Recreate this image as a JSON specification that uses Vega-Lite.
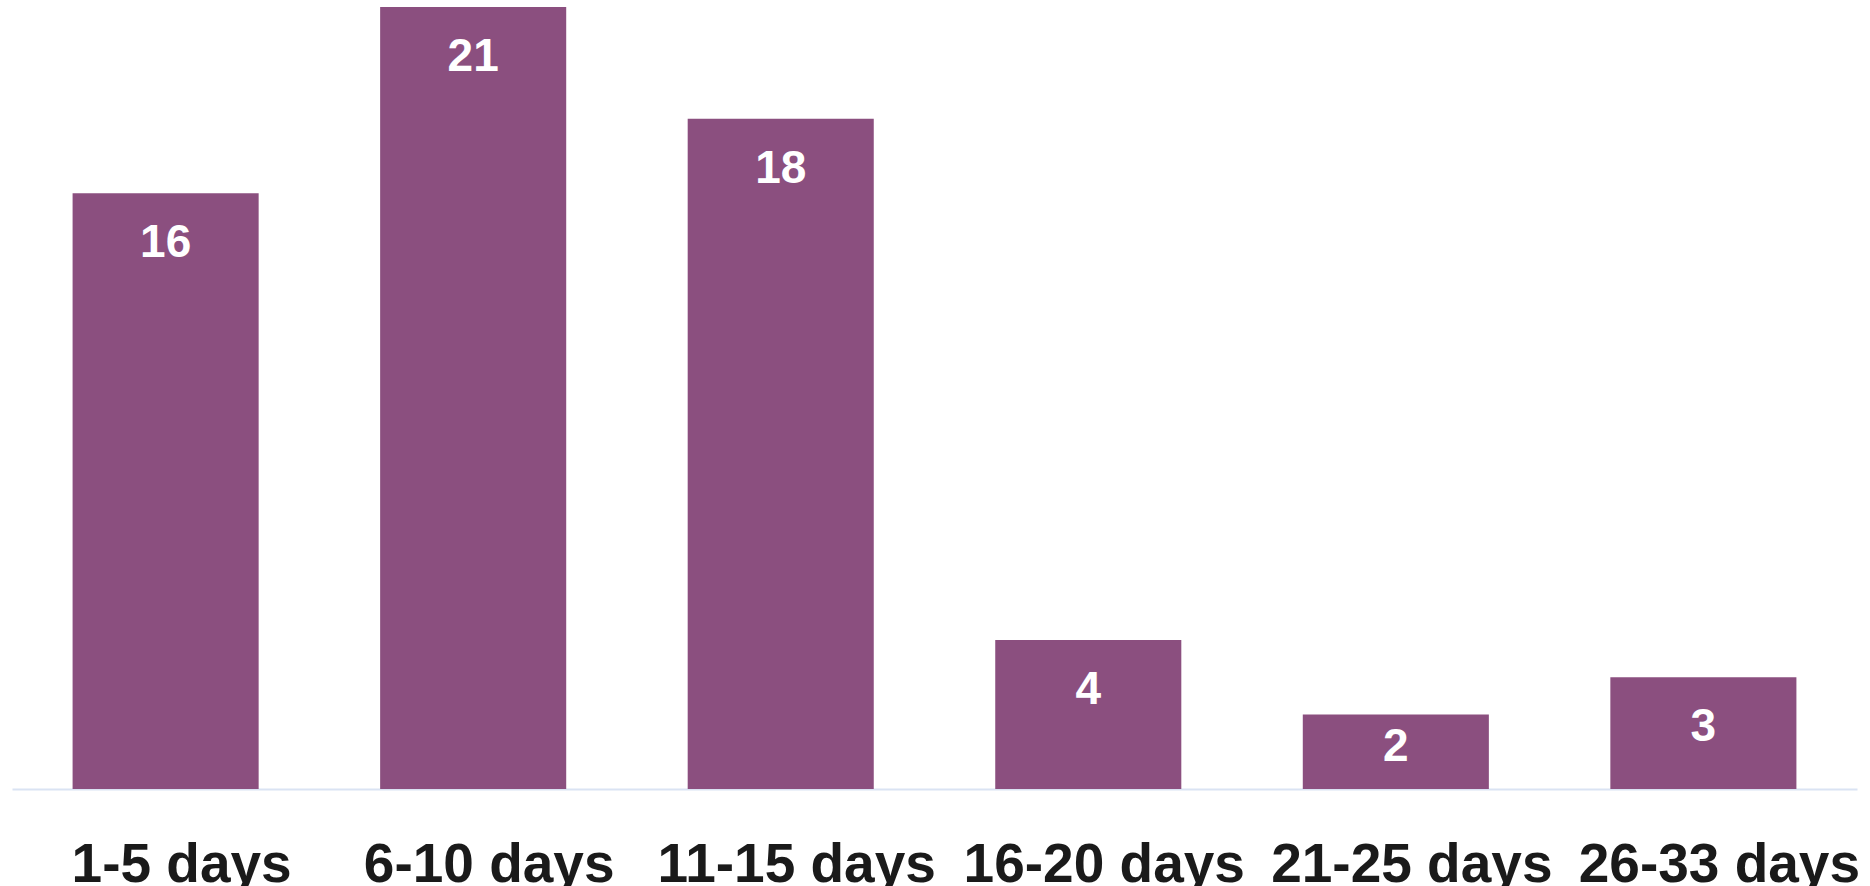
{
  "$schema": "https://vega.github.io/schema/vega-lite/v6.json",
  "width": 1845,
  "height": 782,
  "autosize": "none",
  "padding": {"left": 12, "top": 7, "right": 13, "bottom": 97},
  "background": "white",
  "config": {"view": {"stroke": null}},
  "data": {
    "values": [
      {"range": "1-5 days", "count": 16},
      {"range": "6-10 days", "count": 21},
      {"range": "11-15 days", "count": 18},
      {"range": "16-20 days", "count": 4},
      {"range": "21-25 days", "count": 2},
      {"range": "26-33 days", "count": 3}
    ]
  },
  "encoding": {
    "x": {
      "field": "range",
      "type": "nominal",
      "sort": null,
      "scale": {"paddingInner": 0.395, "paddingOuter": 0.197},
      "axis": {
        "title": null,
        "labelAngle": 0,
        "ticks": false,
        "grid": false,
        "domainColor": "#dae3f3",
        "domainWidth": 2,
        "labelFont": "Liberation Sans",
        "labelFontWeight": "bold",
        "labelFontSize": 55,
        "labelColor": "#1a1a1a",
        "labelBaseline": "alphabetic",
        "labelPadding": 92,
        "labelOffset": 16,
        "labelLimit": 0,
        "labelOverlap": false
      }
    },
    "y": {
      "field": "count",
      "type": "quantitative",
      "scale": {"domain": [0, 21], "nice": false},
      "axis": null
    }
  },
  "layer": [
    {"mark": {"type": "bar", "color": "#8b4f7f"}},
    {
      "transform": [{"filter": "datum.count > 2"}],
      "mark": {
        "type": "text",
        "color": "white",
        "font": "Liberation Sans",
        "fontWeight": "bold",
        "fontSize": 46,
        "baseline": "alphabetic",
        "align": "center",
        "dy": 64
      },
      "encoding": {"text": {"field": "count", "type": "quantitative"}}
    },
    {
      "transform": [{"filter": "datum.count <= 2"}],
      "mark": {
        "type": "text",
        "color": "white",
        "font": "Liberation Sans",
        "fontWeight": "bold",
        "fontSize": 46,
        "baseline": "alphabetic",
        "align": "center",
        "dy": 46
      },
      "encoding": {"text": {"field": "count", "type": "quantitative"}}
    }
  ]
}
